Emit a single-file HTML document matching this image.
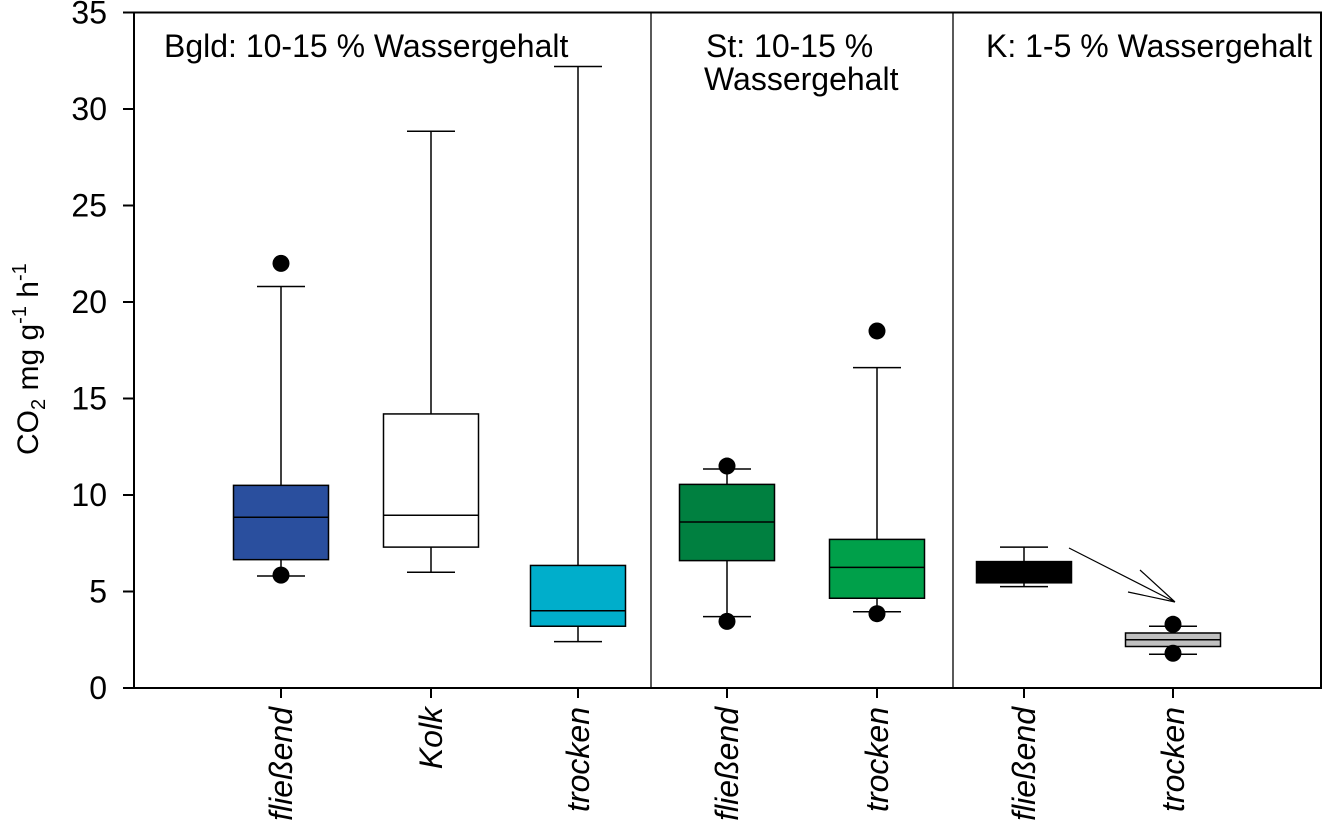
<!DOCTYPE html>
<html><head><meta charset="utf-8"><style>
body{margin:0;background:#fff}
svg{display:block;font-family:"Liberation Sans",Arial,sans-serif}
</style></head><body>
<svg id="chart" width="1323" height="827" viewBox="0 0 1323 827"></svg>
<script>
const categories=["fließend","Kolk","trocken","fließend","trocken","fließend","trocken"];
const boxLow=[6.65,7.3,3.2,6.6,4.65,5.45,2.15];
const boxHigh=[10.5,14.2,6.35,10.55,7.7,6.55,2.85];
const medians=[8.85,8.95,4.0,8.6,6.25,6.0,2.5];
const whiskLow=[5.8,6.0,2.4,3.7,3.95,5.25,1.75];
const whiskHigh=[20.8,28.85,32.2,11.35,16.6,7.3,3.2];
const outliers=[[22,5.85],[],[],[11.5,3.45],[18.5,3.85],[],[3.3,1.8]];
const colors=["#2a4f9e","#ffffff","#00aecb","#008040","#00a04a","#000000","#c0c0c0"];
const yTicks=[0,5,10,15,20,25,30,35];
const xCenters=[281,431,578,727,877,1024,1173];
const NS="http://www.w3.org/2000/svg";
const svg=document.getElementById('chart');
const X0=134,X1=1321,Y0=688,Y1=12.5;
const y=v=>Y0-(v/35)*(Y0-Y1);
function el(t,a,p){const e=document.createElementNS(NS,t);for(const k in a)e.setAttribute(k,a[k]);(p||svg).appendChild(e);return e;}
let f=el('rect',{x:X0,y:Y1,width:X1-X0,height:Y0-Y1,fill:'none',stroke:'#000','stroke-width':2});


[651,953].forEach((xx,i)=>{const l=el('line',{x1:xx,x2:xx,y1:Y1,y2:Y0,stroke:'#000','stroke-width':1.3});

});
yTicks.forEach(v=>{const l=el('line',{x1:X0-11,x2:X0,y1:y(v),y2:y(v),stroke:'#000','stroke-width':2});


const t=el('text',{x:X0-27,y:y(v)+11,'text-anchor':'end','font-size':32});t.textContent=v;

});
categories.forEach((c,i)=>{const cx=xCenters[i],w=95,cw=48;
const g=el('g',{});


el('line',{x1:cx,x2:cx,y1:y(whiskLow[i]),y2:y(whiskHigh[i]),stroke:'#000','stroke-width':1.5},g);
el('line',{x1:cx-cw/2,x2:cx+cw/2,y1:y(whiskLow[i]),y2:y(whiskLow[i]),stroke:'#000','stroke-width':1.5},g);
el('line',{x1:cx-cw/2,x2:cx+cw/2,y1:y(whiskHigh[i]),y2:y(whiskHigh[i]),stroke:'#000','stroke-width':1.5},g);
el('rect',{x:cx-w/2,y:y(boxHigh[i]),width:w,height:y(boxLow[i])-y(boxHigh[i]),fill:colors[i],stroke:'#000','stroke-width':1.5},g);
el('line',{x1:cx-w/2,x2:cx+w/2,y1:y(medians[i]),y2:y(medians[i]),stroke:'#000','stroke-width':1.5},g);
outliers[i].forEach(o=>{const d=el('circle',{cx:cx,cy:y(o),r:8.5,fill:'#000'});

});
const tk=el('line',{x1:cx,x2:cx,y1:Y0,y2:Y0+10,stroke:'#000','stroke-width':2});


const t=el('text',{x:0,y:0,'text-anchor':'end','font-size':32,'font-style':'italic','font-family':'"Liberation Sans",sans-serif',transform:`translate(${cx+11},707) rotate(-90)`});t.textContent=c;

});
const arr=el('path',{d:'M1069 548 L1175 602 M1140 570 L1175 602 M1128 592 L1175 602',stroke:'#000','stroke-width':1.2,fill:'none'});


const titles=[["Bgld: 10-15 % Wassergehalt",164,57],["St: 10-15 %",706,57],["Wassergehalt",704,90],["K: 1-5 % Wassergehalt",986,57]];
titles.forEach(a=>{const t=el('text',{x:a[1],y:a[2],'font-size':32});t.textContent=a[0];

});
const yl=el('text',{x:0,y:0,'font-size':30,transform:'translate(38,455) rotate(-90)'});
yl.innerHTML='CO<tspan font-size="20" dy="7">2</tspan><tspan dy="-7"> mg g</tspan><tspan font-size="20" dy="-12">-1</tspan><tspan dy="12"> h</tspan><tspan font-size="20" dy="-12">-1</tspan>';


</script>
</body></html>
